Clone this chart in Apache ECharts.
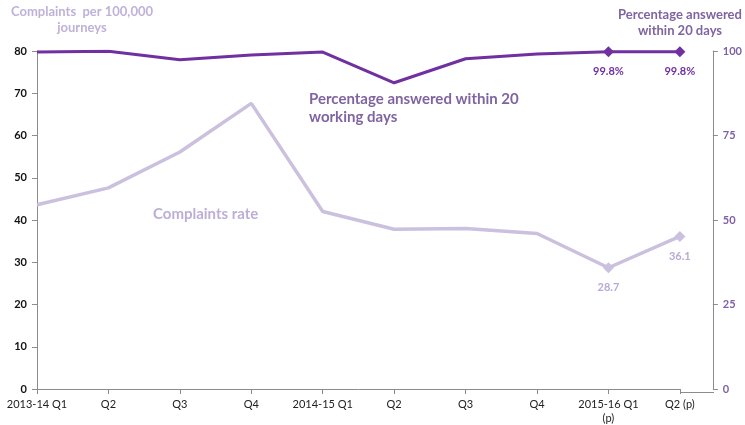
<!DOCTYPE html>
<html>
<head>
<meta charset="utf-8">
<script src="https://cdn.jsdelivr.net/npm/echarts@6/dist/echarts.min.js"></script>
<style>
  html, body { margin: 0; padding: 0; background: #fff; }
  #chart { width: 745px; height: 425px; }
</style>
</head>
<body>
<div id="chart"></div>
<script>
// quarters on the x axis
const quarters = ['2013-14 Q1', 'Q2', 'Q3', 'Q4', '2014-15 Q1', 'Q2', 'Q3', 'Q4', '2015-16 Q1\n(p)', 'Q2 (p)']
// complaints per 100,000 journeys (left axis)
const complaintsRate = [43.6, 47.6, 56.1, 67.6, 42.0, 37.8, 38.0, 36.8, 28.7, 36.1]
// percentage answered within 20 working days (right axis)
const pctAnswered = [99.7, 99.9, 97.4, 98.8, 99.7, 90.6, 97.7, 99.1, 99.8, 99.8]

const font = 'Lato, "Open Sans", sans-serif'
const dark = '#7030a0'
const light = '#cbc0de'

// only the last two points get a marker and a label
function markLast(values, fmt) {
  return values.map((v, i) => {
    if (i < values.length - 2) return { value: v, symbolSize: 0, label: { show: false } }
    return { value: v, symbolSize: 11, label: { show: true, formatter: fmt } }
  })
}

var myChart = echarts.init(document.getElementById('chart'))
myChart.setOption({
  animation: false,
  textStyle: { fontFamily: font },
  grid: { left: 37, right: 64, top: 51, bottom: 33 },
  xAxis: {
    type: 'category',
    data: quarters,
    boundaryGap: false,
    axisLine: { lineStyle: { color: '#8c8c8c', width: 1 } },
    axisTick: { alignWithLabel: true, length: 5, lineStyle: { color: '#8c8c8c' } },
    axisLabel: { color: '#222', fontSize: 11, margin: 8, interval: 0, lineHeight: 14 }
  },
  yAxis: [
    {
      type: 'value',
      min: 0, max: 80, interval: 10,
      splitLine: { show: false },
      axisLine: { show: true, lineStyle: { color: '#8c8c8c' } },
      axisTick: { show: true, length: 5, lineStyle: { color: '#8c8c8c' } },
      axisLabel: { color: '#111', fontWeight: 'bold', fontSize: 11, margin: 10 }
    },
    {
      type: 'value',
      position: 'right',
      offset: 33,
      min: 0, max: 100, interval: 25,
      splitLine: { show: false },
      axisLine: { show: true, lineStyle: { color: '#8c8c8c' } },
      axisTick: { show: true, length: 5, lineStyle: { color: '#8c8c8c' } },
      axisLabel: { color: '#7f60a8', fontWeight: 'bold', fontSize: 11, margin: 10 }
    }
  ],
  series: [
    {
      name: 'Complaints rate',
      type: 'line',
      yAxisIndex: 0,
      data: markLast(complaintsRate, p => p.value.toFixed(1)),
      symbol: 'diamond',
      lineStyle: { color: light, width: 3.5 },
      itemStyle: { color: light },
      label: { position: 'bottom', distance: 9, color: '#b8aad2', fontSize: 11, fontWeight: 'bold' }
    },
    {
      name: 'Percentage answered',
      type: 'line',
      yAxisIndex: 1,
      data: markLast(pctAnswered, p => p.value.toFixed(1) + '%'),
      symbol: 'diamond',
      lineStyle: { color: dark, width: 3 },
      itemStyle: { color: dark },
      label: { position: 'bottom', distance: 9, color: dark, fontSize: 11, fontWeight: 'bold' }
    }
  ],
  graphic: [
    // x axis line continues to the right-hand axis
    { type: 'line', shape: { x1: 681, y1: 392.5, x2: 714, y2: 392.5 }, style: { stroke: '#8c8c8c', lineWidth: 1 } },
    {
      type: 'text', x: 82, y: 4,
      style: { text: 'Complaints  per 100,000\njourneys', align: 'center', fill: '#bfb1d8', font: 'bold 13px ' + font, lineHeight: 16 }
    },
    {
      type: 'text', x: 680, y: 7,
      style: { text: 'Percentage answered\nwithin 20 days', align: 'center', fill: '#8064a2', font: 'bold 13px ' + font, lineHeight: 16 }
    },
    {
      type: 'text', x: 309, y: 90,
      style: { text: 'Percentage answered within 20\nworking days', fill: '#8064a2', font: 'bold 15px ' + font, lineHeight: 18 }
    },
    {
      type: 'text', x: 153, y: 207,
      style: { text: 'Complaints rate', fill: '#bcaed6', font: 'bold 15px ' + font }
    }
  ]
})
</script>
</body>
</html>
